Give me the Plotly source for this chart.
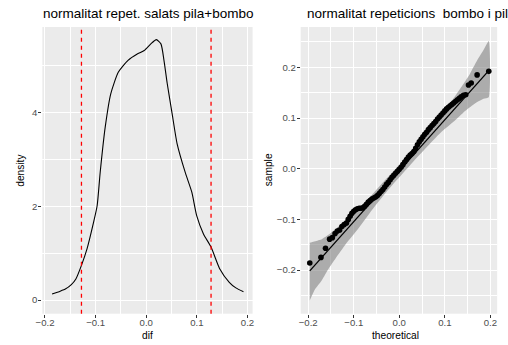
import plotly.graph_objects as go

# ---- left panel: density of dif ----
dens_x = [-0.186, -0.170, -0.159, -0.148, -0.139, -0.128, -0.117, -0.104, -0.097, -0.091,
          -0.081, -0.070, -0.055, -0.036, -0.017, -0.004, 0.009, 0.020, 0.029, 0.035,
          0.0415, 0.051, 0.061, 0.077, 0.090, 0.0996, 0.113, 0.128, 0.145, 0.164, 0.177, 0.192]
dens_y = [0.13, 0.19, 0.24, 0.33, 0.45, 0.74, 1.09, 1.66, 2.01, 2.72,
          3.69, 4.40, 4.86, 5.11, 5.25, 5.32, 5.46, 5.55, 5.46, 5.11,
          4.61, 3.98, 3.33, 2.72, 2.30, 1.80, 1.41, 1.13, 0.67, 0.38, 0.26, 0.18]
vlines = [-0.128, 0.128]

# ---- right panel: normal QQ plot ----
qq_theo = [-0.1966, -0.172, -0.162, -0.153, -0.147, -0.141, -0.136, -0.131, -0.126, -0.121,
           -0.116, -0.112, -0.108, -0.104, -0.100, -0.096, -0.092, -0.088, -0.084, -0.080,
           -0.076, -0.072, -0.068, -0.064, -0.060, -0.056, -0.052, -0.048, -0.044, -0.040,
           -0.036, -0.032, -0.028, -0.024, -0.020, -0.016, -0.012, -0.008, -0.004, 0.000,
           0.004, 0.008, 0.012, 0.016, 0.020, 0.024, 0.028, 0.032, 0.036, 0.040,
           0.044, 0.048, 0.052, 0.056, 0.060, 0.064, 0.068, 0.072, 0.076, 0.080,
           0.084, 0.088, 0.092, 0.096, 0.100, 0.104, 0.108, 0.112, 0.116, 0.120,
           0.124, 0.128, 0.132, 0.136, 0.141, 0.146, 0.152, 0.158, 0.171, 0.1966]
qq_samp = [-0.186, -0.175, -0.157, -0.139, -0.136, -0.128, -0.123, -0.121, -0.114, -0.110,
           -0.107, -0.100, -0.094, -0.088, -0.084, -0.081, -0.079, -0.078, -0.078, -0.077,
           -0.074, -0.070, -0.066, -0.063, -0.060, -0.058, -0.056, -0.053, -0.049, -0.045,
           -0.041, -0.036, -0.031, -0.027, -0.022, -0.017, -0.013, -0.009, -0.005, -0.001,
           0.003, 0.008, 0.013, 0.018, 0.023, 0.027, 0.030, 0.034, 0.040, 0.047,
           0.053, 0.058, 0.063, 0.068, 0.072, 0.077, 0.081, 0.085, 0.089, 0.093,
           0.098, 0.102, 0.106, 0.110, 0.114, 0.118, 0.121, 0.124, 0.127, 0.130,
           0.133, 0.136, 0.139, 0.142, 0.145, 0.146, 0.165, 0.169, 0.185, 0.192]
line_theo = [-0.1966, 0.1966]
line_samp = [-0.2015, 0.1935]
band_theo = [-0.1966, -0.185, -0.170, -0.155, -0.140, -0.117, -0.0907, -0.0595, -0.0275, 0.0,
             0.0275, 0.0595, 0.0907, 0.117, 0.140, 0.155, 0.170, 0.185, 0.1966]
band_lower = [-0.260, -0.238, -0.220, -0.197, -0.177, -0.148, -0.119, -0.081, -0.045, -0.017,
              0.011, 0.042, 0.071, 0.091, 0.110, 0.121, 0.131, 0.138, 0.141]
band_upper = [-0.146, -0.143, -0.139, -0.130, -0.119, -0.100, -0.080, -0.051, -0.019, 0.008,
              0.037, 0.072, 0.108, 0.136, 0.166, 0.187, 0.212, 0.234, 0.252]

W, H = 508, 345
FONT = "Liberation Sans, Arial, sans-serif"
TICKFONT = dict(family=FONT, size=9.6, color="#4D4D4D")


def fx(p):
    return p / W


def fy(p):
    return 1 - p / H


fig = go.Figure()

# left panel
fig.add_trace(go.Scatter(x=dens_x, y=dens_y, mode="lines",
                         line=dict(color="black", width=1.1, shape="spline", smoothing=0.6),
                         xaxis="x", yaxis="y", hoverinfo="skip"))
for v in vlines:
    fig.add_shape(type="line", xref="x", yref="y domain", x0=v, x1=v, y0=0, y1=1,
                  line=dict(color="#FF0000", width=1.3, dash="4px,4px"))

# right panel: band
fig.add_trace(go.Scatter(x=band_theo + band_theo[::-1], y=band_lower + band_upper[::-1],
                         mode="lines", fill="toself", fillcolor="rgba(120,120,120,0.55)",
                         line=dict(width=0, shape="spline", smoothing=0.5),
                         xaxis="x2", yaxis="y2", hoverinfo="skip"))
fig.add_trace(go.Scatter(x=line_theo, y=line_samp, mode="lines",
                         line=dict(color="black", width=1.3),
                         xaxis="x2", yaxis="y2", hoverinfo="skip"))
fig.add_trace(go.Scatter(x=qq_theo, y=qq_samp, mode="markers",
                         marker=dict(color="black", size=5.6, line=dict(width=0)),
                         xaxis="x2", yaxis="y2", hoverinfo="skip"))

common = dict(showgrid=True, gridcolor="white", gridwidth=1.1, zeroline=False, showline=False,
              ticks="outside", ticklen=3, tickwidth=1, tickcolor="#333333", tickfont=TICKFONT,
              tickmode="array")
xcommon = dict(common, ticklabelstandoff=-3)
ycommon = dict(common, ticklabelstandoff=-1)

fig.update_layout(
    width=W, height=H, margin=dict(l=0, r=0, t=0, b=0),
    paper_bgcolor="white", plot_bgcolor="#EBEBEB", showlegend=False,
    xaxis=dict(domain=[fx(36), fx(250)], range=[-0.2052, 0.2100], anchor="y",
               tickvals=[-0.2, -0.1, 0.0, 0.1, 0.2], tickformat=".1f",
               minor=dict(tickvals=[-0.15, -0.05, 0.05, 0.15], showgrid=True,
                          gridcolor="white", gridwidth=0.55, ticks=""), **xcommon),
    yaxis=dict(domain=[31.3 / H, 318 / H], range=[-0.29, 5.82], anchor="x",
               tickvals=[0, 2, 4], tickformat="d",
               minor=dict(tickvals=[1, 3, 5], showgrid=True,
                          gridcolor="white", gridwidth=0.55, ticks=""), **ycommon),
    xaxis2=dict(domain=[fx(299), fx(499)], range=[-0.2165, 0.2150], anchor="y2",
                tickvals=[-0.2, -0.1, 0.0, 0.1, 0.2], tickformat=".1f",
                minor=dict(tickvals=[-0.15, -0.05, 0.05, 0.15], showgrid=True,
                           gridcolor="white", gridwidth=0.55, ticks=""), **xcommon),
    yaxis2=dict(domain=[31.3 / H, 318 / H], range=[-0.286, 0.2795], anchor="x2",
                tickvals=[-0.2, -0.1, 0.0, 0.1, 0.2], tickformat=".1f",
                minor=dict(tickvals=[-0.25, -0.15, -0.05, 0.05, 0.15, 0.25], showgrid=True,
                           gridcolor="white", gridwidth=0.55, ticks=""), **ycommon),
)

ann = [
    dict(text="normalitat repet. salats pila+bombo", x=fx(34.5), y=fy(13.5), xanchor="left",
         yanchor="middle", font=dict(family=FONT, size=13.5, color="black")),
    dict(text="normalitat repeticions \u00a0bombo i pila", x=fx(303.5), y=fy(13.5), xanchor="left",
         yanchor="middle", font=dict(family=FONT, size=13.5, color="black")),
    dict(text="dif", x=fx(143), y=fy(335.5), xanchor="center", yanchor="middle",
         font=dict(family=FONT, size=10.2, color="black")),
    dict(text="theoretical", x=fx(395), y=fy(335.5), xanchor="center", yanchor="middle",
         font=dict(family=FONT, size=10.2, color="black")),
    dict(text="density", x=fx(13), y=fy(170), xanchor="center", yanchor="middle", textangle=-90,
         font=dict(family=FONT, size=10.2, color="black")),
    dict(text="sample", x=fx(266), y=fy(170), xanchor="center", yanchor="middle", textangle=-90,
         font=dict(family=FONT, size=10.2, color="black")),
]
for a in ann:
    a.update(xref="paper", yref="paper", showarrow=False)
fig.update_layout(annotations=ann)

fig.write_html("out.html")
